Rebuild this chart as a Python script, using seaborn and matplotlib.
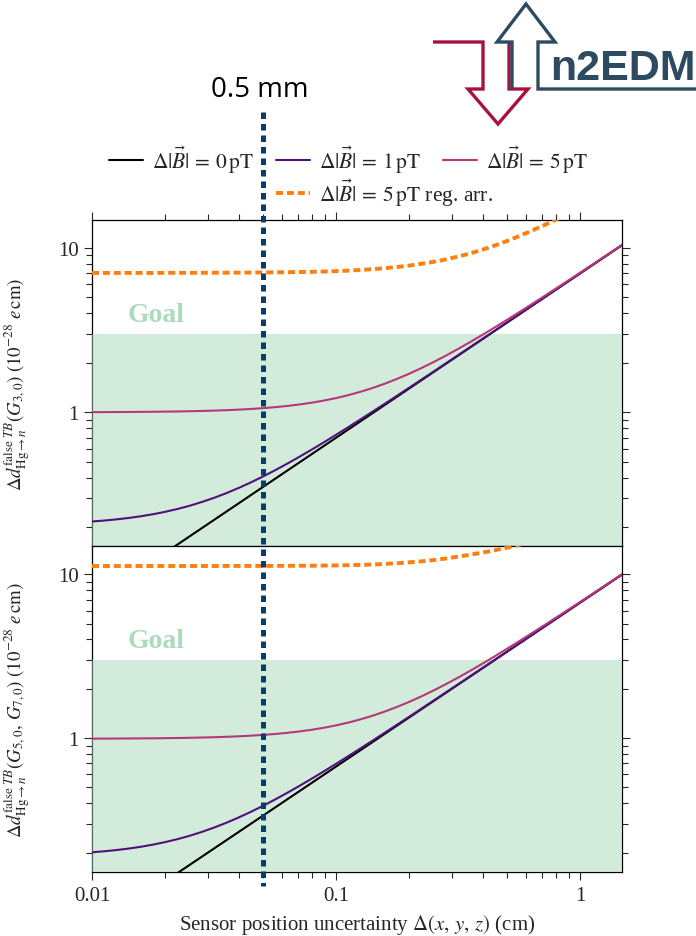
import numpy as np
import pandas as pd
import matplotlib
matplotlib.use("Agg")
import matplotlib.pyplot as plt
import matplotlib.ticker as mticker
from matplotlib.lines import Line2D
from matplotlib.transforms import blended_transform_factory
import seaborn as sns

# ---------------- data ----------------
x_vals = [0.01, 0.0112, 0.0126, 0.0141, 0.0158, 0.0178, 0.02, 0.0224, 0.0251, 0.0282,
          0.0316, 0.0355, 0.0398, 0.0447, 0.0501, 0.0562, 0.0631, 0.0708, 0.0794, 0.0891,
          0.1, 0.112, 0.126, 0.141, 0.158, 0.178, 0.2, 0.224, 0.251, 0.282,
          0.316, 0.355, 0.398, 0.447, 0.501, 0.562, 0.631, 0.708, 0.794, 0.891,
          1.0, 1.12, 1.26, 1.41, 1.5]

top_0pT = [0.070, 0.0784, 0.0882, 0.0987, 0.1106, 0.1246, 0.140, 0.1568, 0.1757, 0.1974,
           0.2212, 0.2485, 0.2786, 0.3129, 0.3507, 0.3934, 0.4417, 0.4956, 0.5558, 0.6237,
           0.700, 0.784, 0.882, 0.987, 1.106, 1.246, 1.400, 1.568, 1.757, 1.974,
           2.212, 2.485, 2.786, 3.129, 3.507, 3.934, 4.417, 4.956, 5.558, 6.237,
           7.00, 7.84, 8.82, 9.87, 10.5]
top_1pT = [0.2166, 0.2194, 0.2231, 0.2275, 0.2329, 0.2399, 0.2482, 0.2581, 0.2699, 0.2846,
           0.3015, 0.3221, 0.3459, 0.3740, 0.4062, 0.4436, 0.4869, 0.5363, 0.5924, 0.6565,
           0.7294, 0.8104, 0.9055, 1.0081, 1.1248, 1.2627, 1.4149, 1.5813, 1.7689, 1.9846,
           2.2215, 2.4934, 2.7935, 3.1357, 3.5130, 3.9393, 4.4218, 4.9602, 5.5618, 6.2404,
           7.0030, 7.8430, 8.8222, 9.8723, 10.502]
top_5pT = [1.0024, 1.0031, 1.0039, 1.0049, 1.0061, 1.0077, 1.0098, 1.0122, 1.0153, 1.0193,
           1.0242, 1.0304, 1.0381, 1.0478, 1.0597, 1.0746, 1.0932, 1.1161, 1.1441, 1.1786,
           1.2207, 1.2707, 1.3334, 1.4051, 1.4910, 1.5977, 1.7205, 1.8597, 2.0216, 2.2129,
           2.4275, 2.6786, 2.9600, 3.2849, 3.6468, 4.0591, 4.5288, 5.0559, 5.6472, 6.3166,
           7.0711, 7.9038, 8.8764, 9.9207, 10.5475]
top_5pT_reg = [7.05, 7.05, 7.05, 7.05, 7.05, 7.05, 7.06, 7.06, 7.06, 7.06,
               7.07, 7.07, 7.08, 7.09, 7.10, 7.11, 7.12, 7.14, 7.16, 7.19,
               7.23, 7.28, 7.35, 7.43, 7.53, 7.66, 7.82, 8.01, 8.24, 8.52,
               8.86, 9.27, 9.76, 10.35, 11.02, 11.8, 12.7, 13.7, 14.85, 16.1,
               17.6, 19.3, 21.3, 23.5, 24.8]

bottom_0pT = [0.067, 0.07504, 0.08442, 0.09447, 0.10586, 0.11926, 0.134, 0.15008, 0.16817, 0.18894,
              0.21172, 0.23785, 0.26666, 0.29949, 0.33567, 0.37654, 0.42277, 0.47436, 0.53198, 0.59697,
              0.670, 0.7504, 0.8442, 0.9447, 1.0586, 1.1926, 1.340, 1.5008, 1.6817, 1.8894,
              2.1172, 2.3785, 2.6666, 2.9949, 3.3567, 3.7654, 4.2277, 4.7436, 5.3198, 5.9697,
              6.70, 7.504, 8.442, 9.447, 10.05]
bottom_1pT = [0.2010, 0.2038, 0.2074, 0.2117, 0.2170, 0.2239, 0.2321, 0.2417, 0.2533, 0.2676,
              0.2841, 0.3041, 0.3271, 0.3544, 0.3854, 0.4215, 0.4633, 0.5108, 0.5647, 0.6263,
              0.6963, 0.7740, 0.8652, 0.9635, 1.0754, 1.2076, 1.3533, 1.5127, 1.6923, 1.8989,
              2.1257, 2.3860, 2.6733, 3.0009, 3.3620, 3.7702, 4.2319, 4.7474, 5.3232, 5.9727,
              6.7027, 7.5064, 8.4441, 9.4489, 10.052]
bottom_5pT = [0.9922, 0.9928, 0.9935, 0.9945, 0.9956, 0.9971, 0.9990, 1.0013, 1.0041, 1.0078,
              1.0123, 1.0181, 1.0252, 1.0343, 1.0453, 1.0591, 1.0764, 1.0977, 1.1238, 1.1560,
              1.1954, 1.2422, 1.3010, 1.3684, 1.4494, 1.5499, 1.6660, 1.7979, 1.9514, 2.1330,
              2.3372, 2.5763, 2.8444, 3.1543, 3.4996, 3.8933, 4.3420, 4.8458, 5.4111, 6.0512,
              6.7728, 7.5690, 8.4998, 9.4987, 10.0985]
bottom_5pT_reg = [11.22, 11.22, 11.22, 11.22, 11.22, 11.22, 11.22, 11.22, 11.22, 11.22,
                  11.22, 11.23, 11.23, 11.23, 11.24, 11.24, 11.25, 11.26, 11.27, 11.29,
                  11.31, 11.35, 11.40, 11.46, 11.55, 11.67, 11.82, 11.98, 12.20, 12.47,
                  12.80, 13.15, 13.55, 14.0, 14.5, 15.1, 15.9, 16.8, 17.9, 19.2,
                  20.7, 22.4, 24.4, 26.6, 28.0]

series_labels = [r"$\Delta|\vec{B}|\,=\,0\,\mathrm{pT}$",
                 r"$\Delta|\vec{B}|\,=\,1\,\mathrm{pT}$",
                 r"$\Delta|\vec{B}|\,=\,5\,\mathrm{pT}$",
                 r"$\Delta|\vec{B}|\,=\,5\,\mathrm{pT}$ reg. arr."]

goal_level = 3.0
goal_label = "Goal"
marker_x = 0.05
marker_label = "0.5 mm"

xtick_vals = [0.01, 0.1, 1]
xtick_labels = ["0.01", "0.1", "1"]
ytick_vals = [1, 10]
ytick_labels = ["1", "10"]
x_limits = (0.01, 1.486)
y_limits = (0.153, 14.8)

x_label = r"Sensor position uncertainty $\Delta(x,\,y,\,z)$ (cm)"
y_label_top = r"$\Delta d^{\mathrm{false}\ TB}_{\mathrm{Hg}\rightarrow n}(G_{3,0})\ (10^{-28}\ e\,\mathrm{cm})$"
y_label_bottom = r"$\Delta d^{\mathrm{false}\ TB}_{\mathrm{Hg}\rightarrow n}(G_{5,0},\,G_{7,0})\ (10^{-28}\ e\,\mathrm{cm})$"

# ---------------- style ----------------
sns.set_style("ticks")
plt.rcParams["font.family"] = ["Liberation Serif", "DejaVu Serif"]
plt.rcParams["mathtext.fontset"] = "stix"
plt.rcParams["font.size"] = 13

colors = ["#000000", "#4f127b", "#b5387a", "#ff7f0e"]
green_fill = "#a9d9b9"
goal_color = "#aadcbb"
navy = "#073d6b"

W, H = 696, 937
fig = plt.figure(figsize=(W / 100, H / 100), dpi=100)

def fx(px):
    return px / W

def fy(py):
    return 1 - py / H

ax_top = fig.add_axes([fx(92), fy(547.3), fx(622) - fx(92), fy(221) - fy(547.3)])
ax_bot = fig.add_axes([fx(92), fy(872.7), fx(622) - fx(92), fy(547.3) - fy(872.7)])

panels = [
    (ax_top, [top_0pT, top_1pT, top_5pT, top_5pT_reg], y_label_top),
    (ax_bot, [bottom_0pT, bottom_1pT, bottom_5pT, bottom_5pT_reg], y_label_bottom),
]

legend_handles = []
for i, (ax, ys, ylab) in enumerate(panels):
    ax.set_xscale("log")
    ax.set_yscale("log")
    ax.axhspan(y_limits[0] * 0.5, goal_level, color=green_fill, alpha=0.5, lw=0, zorder=3)
    ax.text(0.0140, 3.95, goal_label, color=goal_color, fontsize=20, fontweight="bold",
            va="center", ha="left", zorder=3)
    for j, yv in enumerate(ys):
        df = pd.DataFrame({"x": x_vals, "y": yv})
        sns.lineplot(data=df, x="x", y="y", ax=ax, color=colors[j], sort=False,
                     errorbar=None, lw=1.5 if j < 3 else 2.8, zorder=4 + j * 0.1)
        line = ax.lines[-1]
        if j == 3:
            line.set_dashes((1.8, 1.0))
            line.set_dash_capstyle("butt")
        if i == 0:
            legend_handles.append(line)
    ax.set_xlim(*x_limits)
    ax.set_ylim(*y_limits)
    ax.set_xlabel("")
    ax.set_ylabel(ylab, fontsize=13.5)
    ax.yaxis.set_label_coords(-0.113, 0.5)
    ax.xaxis.set_major_locator(mticker.FixedLocator(xtick_vals))
    ax.xaxis.set_minor_locator(mticker.LogLocator(base=10, subs=np.arange(2, 10)))
    ax.yaxis.set_major_locator(mticker.FixedLocator(ytick_vals))
    ax.yaxis.set_minor_locator(mticker.LogLocator(base=10, subs=np.arange(2, 10)))
    ax.yaxis.set_major_formatter(mticker.FixedFormatter(ytick_labels))
    ax.yaxis.set_minor_formatter(mticker.NullFormatter())
    ax.xaxis.set_minor_formatter(mticker.NullFormatter())
    ax.tick_params(which="major", direction="out", length=6, width=0.8, labelsize=15, pad=3.5)
    ax.tick_params(which="minor", direction="out", length=4.2, width=0.8)
    ax.tick_params(axis="y", which="both", left=True, right=True, labelright=False)
    for sp in ax.spines.values():
        sp.set_linewidth(0.9)
        sp.set_color("black")
        sp.set_visible(True)

ax_top.tick_params(axis="x", which="both", top=True, bottom=True, labelbottom=False, labeltop=False)
ax_bot.tick_params(axis="x", which="both", top=False, bottom=True)
ax_bot.xaxis.set_major_formatter(mticker.FixedFormatter(xtick_labels))
ax_bot.set_xlabel(x_label, fontsize=15)
ax_bot.xaxis.set_label_coords(0.5, -0.125)
ax_bot.tick_params(axis="x", which="major", pad=4)

# legend entries, each anchored at its handle start
leg_fs = 15.5
leg_kw = dict(frameon=False, fontsize=leg_fs, borderpad=0, borderaxespad=0,
              handlelength=34 / (leg_fs * 100 / 72), handletextpad=0.4, loc="center left")
legend_anchor_px = [(109, 160), (276, 160), (443, 160), (276, 193)]
for k, (hx, hy) in enumerate(legend_anchor_px):
    fig.legend([legend_handles[k]], [series_labels[k]],
               bbox_to_anchor=(fx(hx), fy(hy)), **leg_kw)

# vertical 0.5 mm marker across the figure
btr = blended_transform_factory(ax_top.transData, fig.transFigure)
vline = Line2D([marker_x, marker_x], [fy(113), fy(887)], transform=btr, color=navy,
               lw=3.6, zorder=10)
vline.set_dashes((1.3, 1.0))
vline.set_dash_capstyle("butt")
fig.add_artist(vline)
fig.text(0.0485, fy(90), marker_label, transform=btr, ha="center", va="center",
         fontsize=20, family="Open Sans", color="black")

# n2EDM logo
red = "#a8103d"
slate = "#2c4a60"
red_pts = [(433, 43), (483, 43), (483, 90), (468, 90), (498, 125), (528, 90), (509, 90), (509, 44)]
blue_pts = [(512, 90), (512, 43), (497, 43), (526, 5), (555, 43), (538, 43), (538, 90), (700, 90)]
for pts, c in [(red_pts, red), (blue_pts, slate)]:
    xs = [fx(p[0]) for p in pts]
    ys_ = [fy(p[1]) for p in pts]
    ln = Line2D(xs, ys_, transform=fig.transFigure, color=c, lw=2.4,
                solid_joinstyle="miter", solid_capstyle="butt", zorder=12)
    fig.add_artist(ln)
fig.text(fx(550), fy(80), "n2EDM", ha="left", va="baseline", fontsize=31,
         family="Liberation Sans", fontweight="bold", color=slate, zorder=12)

fig.savefig("out.png", dpi=100)
